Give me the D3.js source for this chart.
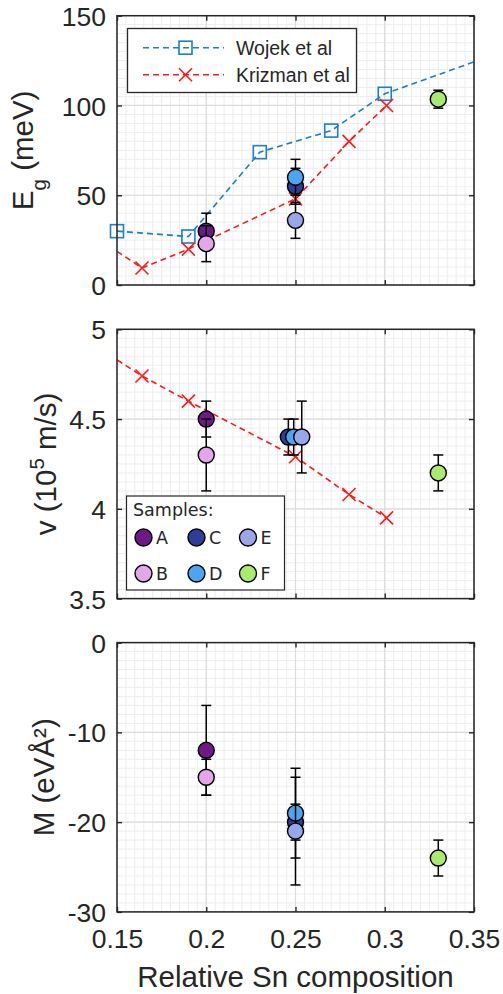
<!DOCTYPE html>
<html>
<head>
<meta charset="utf-8">
<script src="https://cdn.jsdelivr.net/npm/d3@7"></script>
<style>
  html, body { margin: 0; padding: 0; background: #fff; }
  svg { display: block; }
  text { font-family: "Liberation Sans", Arial, Helvetica, sans-serif; fill: #262626; }
</style>
</head>
<body>
<svg id="chart" width="503" height="994"></svg>
<script>
// Sample labels and their marker colours
const samples = ["A", "B", "C", "D", "E", "F"];
const sampleColors = ["#6b1a86", "#e3a6ea", "#2d3e96", "#4ea4f0", "#98a7e9", "#a9eb6f"];

// Sn composition of each sample (velocity panel is slightly offset for readability)
const sampleX = [0.2, 0.2, 0.25, 0.25, 0.25, 0.33];
const sampleXVelocity = [0.2, 0.2, 0.246, 0.249, 0.2535, 0.33];

// Band gap (meV)
const gapValues = [30, 23, 55, 60, 36, 103.5];
const gapErrors = [10, 10, 10, 10, 10, 5];

// Velocity (10^5 m/s)
const velValues = [4.5, 4.3, 4.4, 4.4, 4.4, 4.2];
const velErrors = [0.1, 0.2, 0.1, 0.1, 0.2, 0.1];

// Mass term M (eV Å^2)
const massValues = [-12, -15, -20, -19, -21, -24];
const massErrors = [5, 2, 2, 5, 6, 2];

// Literature: Wojek et al band gap
const wojekX = [0.15, 0.19, 0.23, 0.27, 0.30, 0.40];
const wojekGap = [30, 27, 74, 86, 106.5, 142];

// Literature: Krizman et al band gap and velocity
const krizmanX = [0.136, 0.164, 0.19, 0.25, 0.28, 0.301];
const krizmanGap = [28, 9.5, 20, 48, 80, 100];
const krizmanVel = [4.92, 4.74, 4.60, 4.29, 4.08, 3.95];

// Axis ticks
const xTicks = [0.15, 0.2, 0.25, 0.3, 0.35];
const gapTicks = [0, 50, 100, 150];
const velTicks = [3.5, 4, 4.5, 5];
const massTicks = [-30, -20, -10, 0];

const svg = d3.select("#chart");
const left = 117, right = 474;
const panelH = 269.3;
const panelTops = [15.7, 329.3, 642.6];
const frameColor = "#262626";
const wojekColor = "#1a7fcc";
const krizmanColor = "#ff1a1a";

const x = d3.scaleLinear().domain([0.15, 0.35]).range([left, right]);

function fmt(v) { return String(v); }

function makePanel(i, domain, ticks, minorStep, showXLabels) {
  const top = panelTops[i], bottom = top + panelH;
  const y = d3.scaleLinear().domain(domain).range([bottom, top]);
  const g = svg.append("g");

  g.append("rect").attr("x", left).attr("y", top)
    .attr("width", right - left).attr("height", panelH).attr("fill", "#fff");

  // minor grid
  const xMinor = d3.range(0, 41).map(k => 0.15 + k * 0.005);
  const nMinorY = Math.round((domain[1] - domain[0]) / minorStep);
  const yMinor = d3.range(0, nMinorY + 1).map(k => domain[0] + k * minorStep);
  g.append("g").selectAll("line.mx").data(xMinor).join("line")
    .attr("x1", d => x(d)).attr("x2", d => x(d)).attr("y1", top).attr("y2", bottom)
    .attr("stroke", "#ededed").attr("stroke-width", 1);
  g.append("g").selectAll("line.my").data(yMinor).join("line")
    .attr("y1", d => y(d)).attr("y2", d => y(d)).attr("x1", left).attr("x2", right)
    .attr("stroke", "#ededed").attr("stroke-width", 1);
  // major grid
  g.append("g").selectAll("line").data(xTicks).join("line")
    .attr("x1", d => x(d)).attr("x2", d => x(d)).attr("y1", top).attr("y2", bottom)
    .attr("stroke", "#dcdcdc").attr("stroke-width", 1.2);
  g.append("g").selectAll("line").data(ticks).join("line")
    .attr("y1", d => y(d)).attr("y2", d => y(d)).attr("x1", left).attr("x2", right)
    .attr("stroke", "#dcdcdc").attr("stroke-width", 1.2);

  // axes with inward ticks on all four sides
  const yl = g.append("g").attr("transform", `translate(${left},0)`)
    .call(d3.axisLeft(y).tickValues(ticks).tickFormat(fmt).tickSizeInner(-5).tickSizeOuter(0).tickPadding(11));
  const yr = g.append("g").attr("transform", `translate(${right},0)`)
    .call(d3.axisRight(y).tickValues(ticks).tickFormat("").tickSizeInner(-5).tickSizeOuter(0));
  const xt = g.append("g").attr("transform", `translate(0,${top})`)
    .call(d3.axisTop(x).tickValues(xTicks).tickFormat("").tickSizeInner(-5).tickSizeOuter(0));
  const xb = g.append("g").attr("transform", `translate(0,${bottom})`)
    .call(d3.axisBottom(x).tickValues(xTicks).tickFormat(showXLabels ? fmt : "").tickSizeInner(-5).tickSizeOuter(0));
  [yl, yr, xt, xb].forEach(a => {
    a.select(".domain").remove();
    a.selectAll(".tick line").attr("stroke", frameColor).attr("stroke-width", 1.4);
    a.selectAll("text").attr("font-size", 26.5).attr("fill", frameColor)
      .style("font-family", '"Liberation Sans", Arial, sans-serif');
  });
  yl.selectAll("text").attr("dy", "0.36em");
  xb.selectAll("text").attr("y", 36).attr("dy", 0);

  const clipId = "clip" + i;
  svg.append("clipPath").attr("id", clipId).append("rect")
    .attr("x", left).attr("y", top).attr("width", right - left).attr("height", panelH);

  const content = svg.append("g");
  const frame = () => svg.append("rect").attr("x", left).attr("y", top)
    .attr("width", right - left).attr("height", panelH)
    .attr("fill", "none").attr("stroke", frameColor).attr("stroke-width", 1.5);
  return { y, g: content, clipId, top, bottom, frame };
}

function dashedLine(p, xs, ys, color) {
  const line = d3.line().x(d => x(d[0])).y(d => p.y(d[1]));
  p.g.append("path").datum(xs.map((v, k) => [v, ys[k]]))
    .attr("clip-path", `url(#${p.clipId})`)
    .attr("d", line).attr("fill", "none").attr("stroke", color)
    .attr("stroke-width", 1.6).attr("stroke-dasharray", "6,4");
}

function squareMarker(sel, cx, cy, color) {
  sel.append("rect").attr("x", cx - 6.5).attr("y", cy - 6.5).attr("width", 13).attr("height", 13)
    .attr("fill", "none").attr("stroke", color).attr("stroke-width", 1.6);
}
function crossMarker(sel, cx, cy, color) {
  const s = 6.5;
  sel.append("path").attr("d", `M${cx - s},${cy - s}L${cx + s},${cy + s}M${cx - s},${cy + s}L${cx + s},${cy - s}`)
    .attr("stroke", color).attr("stroke-width", 1.6).attr("fill", "none");
}

function inDomain(v) { return v >= 0.15 - 1e-9 && v <= 0.35 + 1e-9; }

function samplePoints(p, xs, vals, errs) {
  samples.forEach((s, k) => {
    const cx = x(xs[k]);
    const y0 = p.y(vals[k] - errs[k]), y1 = p.y(vals[k] + errs[k]);
    const eg = p.g.append("g").attr("stroke", "#000").attr("stroke-width", 1.5);
    eg.append("line").attr("x1", cx).attr("x2", cx).attr("y1", y0).attr("y2", y1);
    eg.append("line").attr("x1", cx - 5).attr("x2", cx + 5).attr("y1", y0).attr("y2", y0);
    eg.append("line").attr("x1", cx - 5).attr("x2", cx + 5).attr("y1", y1).attr("y2", y1);
    p.g.append("circle").attr("cx", cx).attr("cy", p.y(vals[k])).attr("r", 8)
      .attr("fill", sampleColors[k]).attr("stroke", "#000").attr("stroke-width", 1.4);
  });
}

// ---- Panel 1: band gap ----
const p1 = makePanel(0, [0, 150], gapTicks, 5, false);
dashedLine(p1, wojekX, wojekGap, wojekColor);
dashedLine(p1, krizmanX, krizmanGap, krizmanColor);
wojekX.forEach((v, k) => { if (inDomain(v)) squareMarker(p1.g, x(v), p1.y(wojekGap[k]), wojekColor); });
krizmanX.forEach((v, k) => { if (inDomain(v)) crossMarker(p1.g, x(v), p1.y(krizmanGap[k]), krizmanColor); });
samplePoints(p1, sampleX, gapValues, gapErrors);
p1.frame();

// literature legend
{
  const lg = svg.append("g");
  lg.append("rect").attr("x", 127.5).attr("y", 28.5).attr("width", 229).attr("height", 64)
    .attr("fill", "#fff").attr("stroke", frameColor).attr("stroke-width", 1.3);
  const rows = [
    { name: "Wojek et al", color: wojekColor, marker: squareMarker, y: 47.7 },
    { name: "Krizman et al", color: krizmanColor, marker: crossMarker, y: 74.7 }
  ];
  rows.forEach(r => {
    lg.append("line").attr("x1", 143).attr("x2", 224).attr("y1", r.y).attr("y2", r.y)
      .attr("stroke", r.color).attr("stroke-width", 1.6).attr("stroke-dasharray", "6,4");
    r.marker(lg, 185.5, r.y, r.color);
    lg.append("text").attr("x", 236).attr("y", r.y).attr("dy", "0.36em")
      .attr("font-size", 19.5).text(r.name);
  });
}

// ---- Panel 2: velocity ----
const p2 = makePanel(1, [3.5, 5], velTicks, 0.05, false);
dashedLine(p2, krizmanX, krizmanVel, krizmanColor);
krizmanX.forEach((v, k) => { if (inDomain(v)) crossMarker(p2.g, x(v), p2.y(krizmanVel[k]), krizmanColor); });
samplePoints(p2, sampleXVelocity, velValues, velErrors);
p2.frame();

// sample legend
{
  const lg = svg.append("g");
  lg.append("rect").attr("x", 126.5).attr("y", 496).attr("width", 158).attr("height", 94)
    .attr("fill", "#fff").attr("stroke", frameColor).attr("stroke-width", 1.2);
  lg.append("text").attr("x", 133).attr("y", 516).attr("font-size", 17.5)
    .style("font-family", '"DejaVu Sans", sans-serif').text("Samples:");
  const colX = [143.5, 196.5, 248];
  const rowY = [537.5, 573.5];
  samples.forEach((s, k) => {
    const cx = colX[Math.floor(k / 2)], cy = rowY[k % 2];
    lg.append("circle").attr("cx", cx).attr("cy", cy).attr("r", 8.5)
      .attr("fill", sampleColors[k]).attr("stroke", "#000").attr("stroke-width", 1.4);
    lg.append("text").attr("x", cx + 12.5).attr("y", cy).attr("dy", "0.36em").attr("font-size", 17.5)
      .style("font-family", '"DejaVu Sans", sans-serif').text(s);
  });
}

// ---- Panel 3: mass term ----
const p3 = makePanel(2, [-30, 0], massTicks, 1, true);
samplePoints(p3, sampleX, massValues, massErrors);
p3.frame();

// ---- Axis titles ----
const titleSize = 29.5;
function yTitle(baseX, panel, build) {
  const cy = (panel.top + panel.bottom) / 2;
  const t = svg.append("text").attr("transform", `translate(${baseX},${cy}) rotate(-90)`)
    .attr("text-anchor", "middle").attr("font-size", titleSize).attr("fill", frameColor);
  build(t);
}
yTitle(33.3, p1, t => {
  t.append("tspan").text("E");
  t.append("tspan").attr("font-size", 20.5).attr("dy", 12.4).text("g");
  t.append("tspan").attr("dy", -12.4).text(" (meV)");
});
yTitle(55.5, p2, t => {
  t.append("tspan").text("v (10");
  t.append("tspan").attr("font-size", 20.5).attr("dy", -12).text("5");
  t.append("tspan").attr("dy", 12).text(" m/s)");
});
yTitle(53.5, p3, t => { t.text("M (eVÅ²)"); });

svg.append("text").attr("x", (left + right) / 2).attr("y", 987)
  .attr("text-anchor", "middle").attr("font-size", titleSize).attr("fill", frameColor)
  .text("Relative Sn composition");
</script>
</body>
</html>
